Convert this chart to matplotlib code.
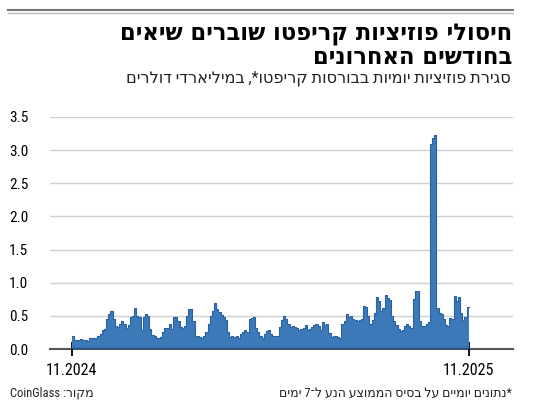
import numpy as np
import pandas as pd
import matplotlib
matplotlib.use("Agg")
import matplotlib.pyplot as plt
from matplotlib.lines import Line2D
from matplotlib import font_manager

# daily liquidations, 7-day moving average, read every ~2 days (billion $)
values = [
    0.20, 0.13, 0.13, 0.13, 0.15, 0.14, 0.14, 0.12, 0.16, 0.17,
    0.17, 0.16, 0.20, 0.22, 0.28, 0.30, 0.45, 0.53, 0.57, 0.45,
    0.35, 0.33, 0.38, 0.42, 0.38, 0.32, 0.36, 0.48, 0.50, 0.62,
    0.50, 0.48, 0.28, 0.48, 0.53, 0.50, 0.30, 0.21, 0.19, 0.17,
    0.16, 0.18, 0.26, 0.31, 0.32, 0.37, 0.30, 0.48, 0.49, 0.42,
    0.33, 0.32, 0.34, 0.50, 0.60, 0.60, 0.42, 0.20, 0.19, 0.18,
    0.17, 0.19, 0.25, 0.38, 0.50, 0.58, 0.70, 0.60, 0.56, 0.52,
    0.48, 0.44, 0.25, 0.18, 0.19, 0.18, 0.19, 0.17, 0.22, 0.25,
    0.28, 0.25, 0.45, 0.47, 0.48, 0.32, 0.25, 0.20, 0.17, 0.22,
    0.27, 0.28, 0.23, 0.20, 0.19, 0.19, 0.33, 0.43, 0.50, 0.45,
    0.38, 0.33, 0.35, 0.33, 0.32, 0.28, 0.30, 0.32, 0.36, 0.28,
    0.30, 0.33, 0.36, 0.37, 0.34, 0.28, 0.40, 0.36, 0.38, 0.24,
    0.18, 0.19, 0.19, 0.18, 0.17, 0.38, 0.42, 0.53, 0.48, 0.50,
    0.45, 0.43, 0.42, 0.43, 0.45, 0.65, 0.63, 0.50, 0.38, 0.43,
    0.55, 0.78, 0.72, 0.58, 0.62, 0.82, 0.77, 0.74, 0.50, 0.42,
    0.36, 0.30, 0.27, 0.28, 0.34, 0.38, 0.35, 0.32, 0.76, 0.88,
    0.87, 0.42, 0.35, 0.34, 0.38, 0.40, 3.10, 3.18, 3.23, 0.62,
    0.54, 0.53, 0.45, 0.36, 0.34, 0.47, 0.45, 0.80, 0.73, 0.78,
    0.55, 0.43, 0.48, 0.63,
]
start_date = "2024-11-01"
x_labels = ["11.2024", "11.2025"]
y_ticks = [0, 0.5, 1.0, 1.5, 2.0, 2.5, 3.0, 3.5]

title1 = "חיסולי פוזיציות קריפטו שוברים שיאים"
title2 = "בחודשים האחרונים"
subtitle = "סגירת פוזיציות יומיות בבורסות קריפטו*, במיליארדי דולרים"
note = "*נתונים יומיים על בסיס הממוצע הנע ל־7 ימים"
source = "CoinGlass :רוקמ"  # already in visual order


def rtl(s):
    # matplotlib has no bidi support, so flip to visual order
    return s[::-1]


# pick a narrow face if one is installed
installed = {f.name for f in font_manager.fontManager.ttflist}
cond = [f for f in ["Liberation Sans Narrow", "DejaVu Sans Condensed",
                    "Roboto Condensed", "Open Sans Condensed"] if f in installed]
cond = cond[:1] + ["DejaVu Sans"]

dates = pd.date_range(start_date, periods=len(values), freq="2D")
step = pd.Timedelta(days=2)
end = dates[-1] + step

fig = plt.figure(figsize=(5.5, 4.15), dpi=100)
ax = fig.add_axes([50 / 550, 1 - 349 / 415, 463 / 550, 232 / 415])

ax.bar(dates, values, width=step, align="edge", color="#3c79b8", linewidth=0, zorder=2)
ax.step(list(dates) + [end], values + [values[-1]], where="post",
        color="#2b62a3", lw=0.8, zorder=3)
ax.plot([dates[0], end], [0, 0], color="#1f4f8a", lw=1.5, zorder=4)

ax.set_xlim(dates[0] - pd.Timedelta(days=20), end + pd.Timedelta(days=41))
ax.set_ylim(0, 3.5)

ax.set_yticks(y_ticks)
ax.set_yticklabels(["%.1f" % v for v in y_ticks], family=cond, fontsize=11)
for lbl in ax.get_yticklabels():
    lbl.set_horizontalalignment("left")
ax.tick_params(axis="y", length=0, pad=29.5)
for v in y_ticks[1:]:
    ax.axhline(v, color="#d0d0d0", lw=1, zorder=1)

ax.set_xticks([dates[0], end])
ax.set_xticklabels(x_labels, family=cond, fontsize=11.5)
ax.tick_params(axis="x", direction="inout", length=10, width=1.3, color="black", pad=5)

for s in ["top", "right", "left"]:
    ax.spines[s].set_visible(False)
ax.spines["bottom"].set_color("#555555")
ax.spines["bottom"].set_linewidth(1.5)
ax.spines["bottom"].set_zorder(0)

# rule at the top of the graphic
fig.add_artist(Line2D([8 / 550, 513 / 550], [1 - 10 / 415] * 2, color="#777777", lw=1.5))
fig.add_artist(Line2D([8 / 550, 513 / 550], [1 - 13 / 415] * 2, color="#bbbbbb", lw=1))

fig.text(512 / 550, 1 - 35 / 415, rtl(title1), ha="right", va="center",
         fontsize=16.3, fontweight="heavy", family=["DejaVu Sans"])
fig.text(512 / 550, 1 - 57 / 415, rtl(title2), ha="right", va="center",
         fontsize=16.3, fontweight="heavy", family=["DejaVu Sans"])
fig.text(511 / 550, 1 - 78 / 415, rtl(subtitle), ha="right", va="center",
         fontsize=11.6, family=cond, color="#222222")
fig.text(512 / 550, 1 - 393 / 415, rtl(note), ha="right", va="center",
         fontsize=9, family=cond, color="#222222")
fig.text(10 / 550, 1 - 393 / 415, source, ha="left", va="center",
         fontsize=9, family=cond, color="#222222")

fig.savefig("out.png", dpi=100)
